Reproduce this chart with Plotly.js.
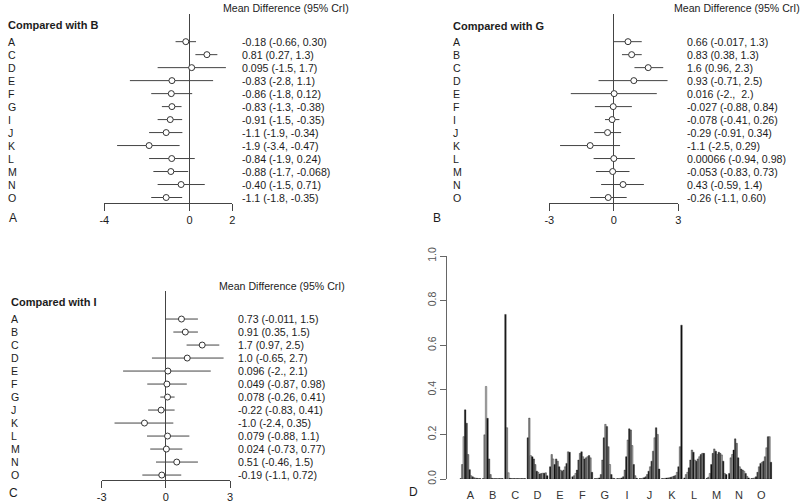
<!DOCTYPE html>
<html>
<head>
<meta charset="utf-8">
<script src="https://cdn.plot.ly/plotly-3.0.1.min.js"></script>
<style>html,body{margin:0;padding:0;background:#fff;}#chart{width:800px;height:504px;}</style>
</head>
<body>
<div id="chart"></div>
<script>
// ---------- Panel A: compared with B ----------
const rowsB = ['A','C','D','E','F','G','I','J','K','L','M','N','O'];
const meanB = [-0.18, 0.81, 0.095, -0.83, -0.86, -0.83, -0.91, -1.1, -1.9, -0.84, -0.88, -0.40, -1.1];
const loB   = [-0.66, 0.27, -1.5, -2.8, -1.8, -1.3, -1.5, -1.9, -3.4, -1.9, -1.7, -1.5, -1.8];
const hiB   = [0.30, 1.3, 1.7, 1.1, 0.12, -0.38, -0.35, -0.34, -0.47, 0.24, -0.068, 0.71, -0.35];
const textB = ['-0.18 (-0.66, 0.30)','0.81 (0.27, 1.3)','0.095 (-1.5, 1.7)','-0.83 (-2.8, 1.1)','-0.86 (-1.8, 0.12)','-0.83 (-1.3, -0.38)','-0.91 (-1.5, -0.35)','-1.1 (-1.9, -0.34)','-1.9 (-3.4, -0.47)','-0.84 (-1.9, 0.24)','-0.88 (-1.7, -0.068)','-0.40 (-1.5, 0.71)','-1.1 (-1.8, -0.35)'];

// ---------- Panel B: compared with G ----------
const rowsG = ['A','B','C','D','E','F','I','J','K','L','M','N','O'];
const meanG = [0.66, 0.83, 1.6, 0.93, 0.016, -0.027, -0.078, -0.29, -1.1, 0.00066, -0.053, 0.43, -0.26];
const loG   = [-0.017, 0.38, 0.96, -0.71, -2, -0.88, -0.41, -0.91, -2.5, -0.94, -0.83, -0.59, -1.1];
const hiG   = [1.3, 1.3, 2.3, 2.5, 2, 0.84, 0.26, 0.34, 0.29, 0.98, 0.73, 1.4, 0.60];
const textG = ['0.66 (-0.017, 1.3)','0.83 (0.38, 1.3)','1.6 (0.96, 2.3)','0.93 (-0.71, 2.5)','0.016 (-2.,\u00a0 2.)','-0.027 (-0.88, 0.84)','-0.078 (-0.41, 0.26)','-0.29 (-0.91, 0.34)','-1.1 (-2.5, 0.29)','0.00066 (-0.94, 0.98)','-0.053 (-0.83, 0.73)','0.43 (-0.59, 1.4)','-0.26 (-1.1, 0.60)'];

// ---------- Panel C: compared with I ----------
const rowsI = ['A','B','C','D','E','F','G','J','K','L','M','N','O'];
const meanI = [0.73, 0.91, 1.7, 1.0, 0.096, 0.049, 0.078, -0.22, -1.0, 0.079, 0.024, 0.51, -0.19];
const loI   = [-0.011, 0.35, 0.97, -0.65, -2, -0.87, -0.26, -0.83, -2.4, -0.88, -0.73, -0.46, -1.1];
const hiI   = [1.5, 1.5, 2.5, 2.7, 2.1, 0.98, 0.41, 0.41, 0.35, 1.1, 0.77, 1.5, 0.72];
const textI = ['0.73 (-0.011, 1.5)','0.91 (0.35, 1.5)','1.7 (0.97, 2.5)','1.0 (-0.65, 2.7)','0.096 (-2., 2.1)','0.049 (-0.87, 0.98)','0.078 (-0.26, 0.41)','-0.22 (-0.83, 0.41)','-1.0 (-2.4, 0.35)','0.079 (-0.88, 1.1)','0.024 (-0.73, 0.77)','0.51 (-0.46, 1.5)','-0.19 (-1.1, 0.72)'];

// ---------- Panel D: rank probabilities (ranks 1..14) ----------
const treatments = ['A','B','C','D','E','F','G','I','J','K','L','M','N','O'];
const rankA = [0.002, 0.065, 0.19, 0.31, 0.25, 0.11, 0.042, 0.015, 0.01, 0.006, 0.004, 0.003, 0.002, 0.002];
const rankB = [0.002, 0.198, 0.415, 0.272, 0.09, 0.02, 0.003, 0.002, 0.002, 0.002, 0.002, 0.002, 0.002, 0.002];
const rankC = [0.738, 0.23, 0.028, 0.003, 0.002, 0.002, 0.002, 0.002, 0.002, 0.002, 0.002, 0.002, 0.002, 0.002];
const rankD = [0.185, 0.273, 0.105, 0.1, 0.09, 0.065, 0.035, 0.03, 0.022, 0.025, 0.026, 0.026, 0.028, 0.015];
const rankE = [0.055, 0.11, 0.09, 0.065, 0.09, 0.08, 0.055, 0.04, 0.035, 0.04, 0.055, 0.07, 0.122, 0.12];
const rankF = [0.01, 0.015, 0.025, 0.04, 0.085, 0.115, 0.122, 0.1, 0.09, 0.095, 0.1, 0.105, 0.095, 0.03];
const rankG = [0.002, 0.002, 0.003, 0.005, 0.02, 0.085, 0.185, 0.245, 0.235, 0.145, 0.065, 0.02, 0.004, 0.002];
const rankI = [0.002, 0.002, 0.003, 0.005, 0.01, 0.04, 0.1, 0.175, 0.225, 0.22, 0.15, 0.065, 0.015, 0.003];
const rankJ = [0.002, 0.002, 0.004, 0.006, 0.01, 0.02, 0.035, 0.055, 0.08, 0.125, 0.185, 0.23, 0.2, 0.045];
const rankK = [0.002, 0.002, 0.003, 0.004, 0.005, 0.006, 0.008, 0.01, 0.013, 0.016, 0.03, 0.055, 0.145, 0.69];
const rankL = [0.005, 0.02, 0.03, 0.05, 0.085, 0.13, 0.12, 0.085, 0.08, 0.09, 0.1, 0.11, 0.115, 0.115];
const rankM = [0.003, 0.008, 0.025, 0.065, 0.115, 0.135, 0.125, 0.11, 0.12, 0.115, 0.108, 0.08, 0.025, 0.02];
const rankN = [0.025, 0.095, 0.11, 0.13, 0.18, 0.16, 0.095, 0.055, 0.045, 0.04, 0.035, 0.025, 0.012, 0.005];
const rankO = [0.002, 0.003, 0.005, 0.01, 0.03, 0.055, 0.07, 0.075, 0.08, 0.1, 0.14, 0.19, 0.19, 0.075];
const rankTicks = ['0.0','0.2','0.4','0.6','0.8','1.0'];
const rankTickVals = [0, 0.2, 0.4, 0.6, 0.8, 1.0];

// ---------- styling ----------
const W = 800, H = 504;
const px = x => x / W;
const py = y => 1 - y / H;
const FONT = 'Liberation Sans, Arial, sans-serif';
const TXT = '#1c1c1c';
const FS = 10.6;
const rankColors = ['#1e1e1e','#8a8a8a','#b8b8b8','#141414','#4a4a4a','#7c7c7c','#222222','#9c9c9c','#3a3a3a','#6a6a6a','#a8a8a8','#2a2a2a','#909090','#111111'];

const traces = [];
const annotations = [];

function forest(rows, mean, lo, hi, texts, xa, ya, geom) {
  traces.push({
    type: 'scatter', mode: 'markers', xaxis: xa, yaxis: ya,
    x: mean, y: rows.map((_, i) => i),
    error_x: {type: 'data', symmetric: false,
      array: hi.map((h, i) => h - mean[i]),
      arrayminus: lo.map((l, i) => mean[i] - l),
      color: '#444', thickness: 1, width: 0},
    marker: {symbol: 'circle', size: 6, color: '#fff', line: {color: '#333', width: 1}},
    showlegend: false, hoverinfo: 'skip', cliponaxis: false
  });
  const yref = ya;
  rows.forEach((r, i) => {
    annotations.push({xref: 'paper', yref: yref, x: px(geom.labX), y: i, text: r, showarrow: false,
      xanchor: 'left', yanchor: 'middle', font: {family: FONT, size: FS, color: TXT}});
    annotations.push({xref: 'paper', yref: yref, x: px(geom.valX), y: i, text: texts[i], showarrow: false,
      xanchor: 'left', yanchor: 'middle', font: {family: FONT, size: FS, color: TXT}});
  });
  annotations.push({xref: 'paper', yref: 'paper', x: px(geom.labX), y: py(geom.titleY), text: '<b>' + geom.title + '</b>',
    showarrow: false, xanchor: 'left', yanchor: 'middle', font: {family: FONT, size: 11, color: TXT}});
  annotations.push({xref: 'paper', yref: 'paper', x: px(geom.mdX), y: py(geom.mdY), text: 'Mean Difference (95% CrI)',
    showarrow: false, xanchor: 'left', yanchor: 'middle', font: {family: FONT, size: FS, color: TXT}});
  annotations.push({xref: 'paper', yref: 'paper', x: px(geom.letX), y: py(geom.letY), text: geom.letter,
    showarrow: false, xanchor: 'center', yanchor: 'middle', font: {family: FONT, size: 12, color: TXT}});
}

forest(rowsB, meanB, loB, hiB, textB, 'x', 'y',
  {labX: 6, valX: 239.5, title: 'Compared with B', titleY: 25, mdX: 220.5, mdY: 8, letter: 'A', letX: 13, letY: 218});
forest(rowsG, meanG, loG, hiG, textG, 'x2', 'y2',
  {labX: 451.5, valX: 685, title: 'Compared with G', titleY: 25.5, mdX: 672, mdY: 8, letter: 'B', letX: 437, letY: 218});
forest(rowsI, meanI, loI, hiI, textI, 'x3', 'y3',
  {labX: 9, valX: 236.3, title: 'Compared with I', titleY: 302, mdX: 217, mdY: 286, letter: 'C', letX: 13, letY: 493});

annotations.push({xref: 'paper', yref: 'paper', x: px(413), y: py(492), text: 'D', showarrow: false,
  xanchor: 'center', yanchor: 'middle', font: {family: FONT, size: 12, color: TXT}});

const rankSets = {A: rankA, B: rankB, C: rankC, D: rankD, E: rankE, F: rankF, G: rankG, I: rankI,
  J: rankJ, K: rankK, L: rankL, M: rankM, N: rankN, O: rankO};
for (let k = 0; k < 14; k++) {
  traces.push({
    type: 'bar', xaxis: 'x4', yaxis: 'y4',
    x: treatments, y: treatments.map(t => rankSets[t][k]),
    marker: {color: rankColors[k], line: {color: '#111', width: 0.35}},
    showlegend: false, hoverinfo: 'skip'
  });
}

function forestX(d0, d1, rng, vals, texts) {
  return {domain: [px(d0), px(d1)], range: rng, tickvals: vals, ticktext: texts,
    ticks: 'outside', ticklen: 7, tickcolor: '#444', tickwidth: 1,
    showline: true, linecolor: '#444', linewidth: 1,
    zeroline: true, zerolinecolor: '#444', zerolinewidth: 1,
    showgrid: false, fixedrange: true,
    tickfont: {family: FONT, size: 11, color: TXT}};
}
function forestY(top, bot, rTop, rBot, anchor) {
  return {domain: [py(bot), py(top)], range: [rBot, rTop], showgrid: false, zeroline: false,
    showline: false, showticklabels: false, ticks: '', anchor: anchor};
}

const layout = {
  width: W, height: H,
  margin: {l: 0, r: 0, t: 0, b: 0},
  paper_bgcolor: '#fff', plot_bgcolor: 'rgba(0,0,0,0)',
  font: {family: FONT, color: TXT},
  showlegend: false,
  barmode: 'group', bargap: 1 / 15, bargroupgap: 0,
  xaxis: Object.assign(forestX(104.3, 232.3, [-4, 2], [-4, 0, 2], ['-4', '0', '2']), {anchor: 'y'}),
  yaxis: forestY(14, 202.7, -2.13, 12.4, 'x'),
  xaxis2: Object.assign(forestX(549.3, 678.3, [-3, 3], [-3, 0, 3], ['-3', '0', '3']), {anchor: 'y2'}),
  yaxis2: forestY(14, 202.7, -2.13, 12.4, 'x2'),
  xaxis3: Object.assign(forestX(101.7, 230, [-3, 3], [-3, 0, 3], ['-3', '0', '3']), {anchor: 'y3'}),
  yaxis3: forestY(290.7, 480, -2.18, 12.38, 'x3'),
  xaxis4: {domain: [px(446.9), px(772.5)], range: [-1.05, 13.5], type: 'category', anchor: 'y4',
    showline: false, zeroline: false, showgrid: false, ticks: '', ticklabelstandoff: 8,
    tickfont: {family: FONT, size: 11, color: '#333'}},
  yaxis4: {domain: [py(479), py(256)], range: [0, 1], anchor: 'x4',
    tickvals: rankTickVals, ticktext: rankTicks, tickangle: -90,
    ticks: 'outside', ticklen: 6, tickcolor: '#666', showline: true, linecolor: '#666', linewidth: 1,
    showgrid: false, zeroline: false,
    tickfont: {family: FONT, size: 10.5, color: '#555'}},
  annotations: annotations
};

Plotly.newPlot('chart', traces, layout, {staticPlot: true, displayModeBar: false});
</script>
</body>
</html>
